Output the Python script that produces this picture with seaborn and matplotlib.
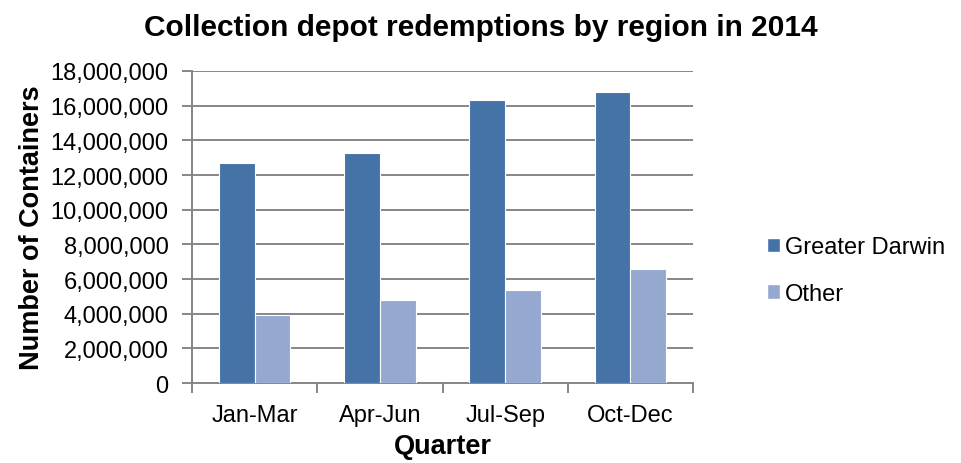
import pandas as pd
import numpy as np
import seaborn as sns
import matplotlib.pyplot as plt
from matplotlib.ticker import FuncFormatter, FixedLocator
from matplotlib.patches import Patch

# chart values
quarters = ['Jan-Mar', 'Apr-Jun', 'Jul-Sep', 'Oct-Dec']
greater_darwin = [12690000, 13250000, 16330000, 16810000]
other = [3920000, 4810000, 5380000, 6600000]
regions = ['Greater Darwin', 'Other']
colors = ['#4572A7', '#95A9D0']

df = pd.DataFrame({
    'Quarter': quarters * 2,
    'Region': [regions[0]] * 4 + [regions[1]] * 4,
    'Containers': greater_darwin + other,
})

sns.set_theme(style='white')
plt.rcParams['font.family'] = ['Liberation Sans', 'DejaVu Sans']
plt.rcParams['text.color'] = 'black'
plt.rcParams['axes.labelcolor'] = 'black'

fig = plt.figure(figsize=(9.61, 4.64), dpi=100)
ax = fig.add_axes([0.2, 0.172, 0.521, 0.673])

sns.barplot(data=df, x='Quarter', y='Containers', hue='Region',
            palette=colors, saturation=1, width=0.57, edgecolor='white',
            linewidth=0.8, ax=ax, legend=False, zorder=3)

ax.set_ylim(0, 18000000)
ax.set_xlim(-0.5, 3.5)
ax.set_yticks(np.arange(0, 18000001, 2000000))
ax.yaxis.set_major_formatter(FuncFormatter(lambda v, p: f'{int(v):,}'))
ax.grid(axis='y', color='#868686', linewidth=1.4, zorder=0)
ax.set_axisbelow(True)

for side in ['top', 'right']:
    ax.spines[side].set_visible(False)
for side in ['left', 'bottom']:
    ax.spines[side].set_color('#868686')
    ax.spines[side].set_linewidth(1.4)

ax.tick_params(axis='y', which='major', left=True, length=7, width=1.4,
               color='#868686', labelcolor='black', labelsize=17, pad=10)
ax.tick_params(axis='x', which='major', bottom=False, labelcolor='black',
               labelsize=17, pad=9)
ax.xaxis.set_minor_locator(FixedLocator([-0.5, 0.5, 1.5, 2.5, 3.5]))
ax.tick_params(axis='x', which='minor', bottom=True, length=7, width=1.4,
               color='#868686')

ax.set_xlabel('Quarter', fontsize=19.5, fontweight='bold', labelpad=5)
ax.set_ylabel('Number of Containers', fontsize=19.5, fontweight='bold', labelpad=4)
fig.suptitle('Collection depot redemptions by region in 2014', x=0.5, y=0.97,
             fontsize=21.5, fontweight='bold')

handles = [Patch(facecolor=c, label=r) for c, r in zip(colors, regions)]
fig.legend(handles=handles, loc='center left', bbox_to_anchor=(0.776, 0.415),
           frameon=False, fontsize=17, handlelength=0.55, handleheight=0.55,
           handletextpad=0.2, labelspacing=1.05)

plt.savefig('out.png', dpi=100)
